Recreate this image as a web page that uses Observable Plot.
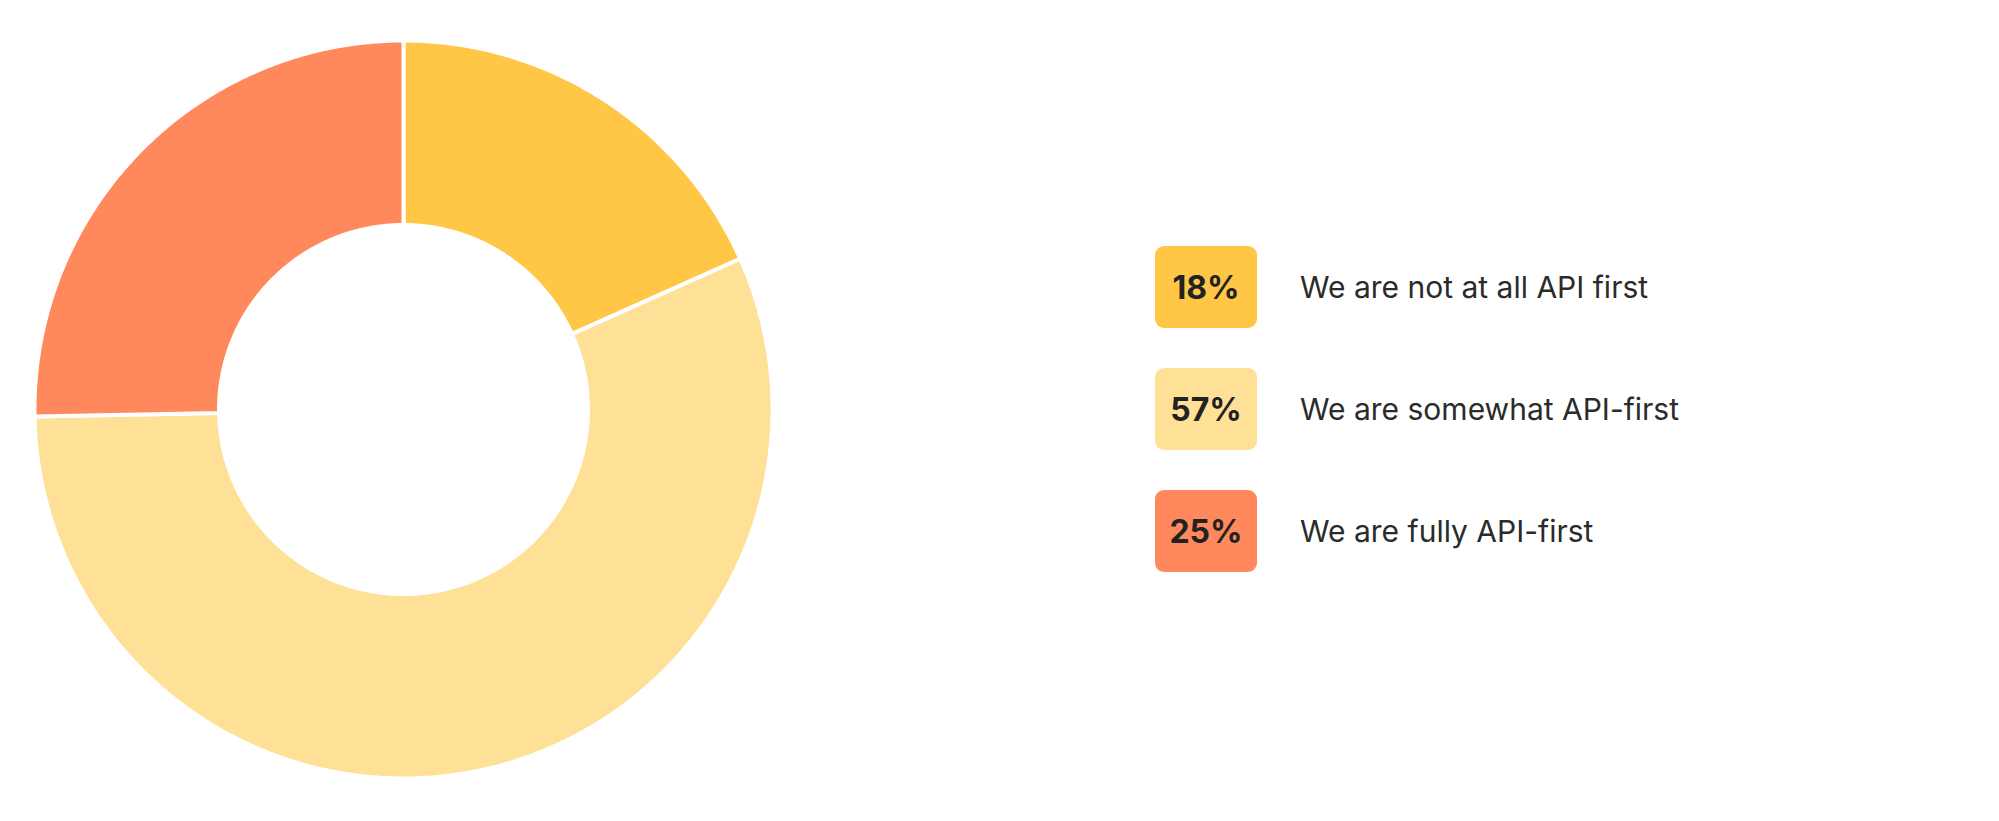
<!DOCTYPE html>
<html>
<head>
<meta charset="utf-8">
<script src="https://cdn.jsdelivr.net/npm/d3@7"></script>
<script src="https://cdn.jsdelivr.net/npm/@observablehq/plot@0.6"></script>
<style>
  html, body { margin: 0; padding: 0; background: #fff; }
  #wrap { position: relative; width: 1999px; height: 821px; overflow: hidden; font-family: Inter, "Noto Sans", sans-serif; }
  #chart { position: absolute; left: 0; top: 0; }
  .row { position: absolute; left: 1155px; height: 82px; display: flex; align-items: center; }
  .box { width: 102px; height: 82px; border-radius: 9px; display: flex; align-items: center; justify-content: center;
         font-weight: 700; font-size: 32px; color: #222; }
  .lab { margin-left: 43px; font-size: 30px; color: #2b2b2b; white-space: nowrap; }
</style>
</head>
<body>
<div id="wrap">
  <div id="chart"></div>
  <div id="legend"></div>
</div>
<script>
// ---- data ----
const categories = ["We are not at all API first", "We are somewhat API-first", "We are fully API-first"];
// slice shares (labels are rounded)
const values = [18.3, 56.4, 25.3];
const percentLabels = ["18%", "57%", "25%"];
const colors = ["#FFC745", "#FEE196", "#FF885C"];

// ---- donut slices as spherical polygons around the north pole (azimuthal equidistant => flat rings) ----
const outerLat = 30, innerLat = 60; // inner radius = half the outer radius
const total = d3.sum(values);
let acc = 0;
const features = categories.map((c, i) => {
  const t0 = acc / total * 360;
  acc += values[i];
  const t1 = acc / total * 360;
  const steps = Math.max(2, Math.ceil((t1 - t0) / 0.5));
  const outer = d3.range(steps + 1).map(k => [180 - (t0 + (t1 - t0) * k / steps), outerLat]);
  const inner = d3.range(steps + 1).map(k => [180 - (t1 - (t1 - t0) * k / steps), innerLat]);
  let ring = [...outer, ...inner, outer[0]];
  let f = {type: "Feature", properties: {category: c, value: values[i]}, geometry: {type: "Polygon", coordinates: [ring]}};
  if (d3.geoArea(f) > 2 * Math.PI) {
    ring = ring.slice().reverse();
    f.geometry.coordinates = [ring];
  }
  return f;
});

const outline = d3.geoCircle().center([0, 90]).radius(90 - outerLat)();

const chart = Plot.plot({
  width: 1999,
  height: 821,
  marginLeft: 34,
  marginRight: 1227,
  marginTop: 40,
  marginBottom: 43,
  projection: {type: "azimuthal-equidistant", rotate: [0, -90], domain: outline},
  color: {domain: categories, range: colors},
  marks: [
    Plot.geo(features, {fill: d => d.properties.category, stroke: "white", strokeWidth: 4, strokeLinejoin: "round"})
  ]
});
document.getElementById("chart").appendChild(chart);

// ---- legend ----
const legend = document.getElementById("legend");
categories.forEach((c, i) => {
  const row = document.createElement("div");
  row.className = "row";
  row.style.top = (246 + i * 122) + "px";
  const box = document.createElement("div");
  box.className = "box";
  box.style.background = colors[i];
  box.textContent = percentLabels[i];
  const lab = document.createElement("div");
  lab.className = "lab";
  lab.textContent = c;
  row.appendChild(box);
  row.appendChild(lab);
  legend.appendChild(row);
});
</script>
</body>
</html>
